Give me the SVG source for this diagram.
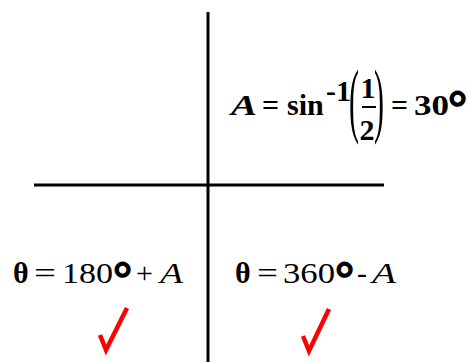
<svg xmlns="http://www.w3.org/2000/svg" width="468" height="363" viewBox="0 0 468 363">
<style>
.t{font-family:"Liberation Serif","Times New Roman",serif;font-size:30px;fill:#000}
.b{font-weight:bold}
.i{font-style:italic}
.deg{font-size:48px;font-weight:bold;stroke:#000;stroke-width:1.5}
.ax{stroke:#000;stroke-width:3;fill:none}
.chk{stroke:#ff0000;stroke-width:4.5;fill:none;stroke-linejoin:miter;stroke-linecap:butt}
</style>
<rect width="468" height="363" fill="#fff"/>
<g id="axes">
<line class="ax" x1="208" y1="12" x2="208" y2="362"/>
<line class="ax" x1="34" y1="185" x2="384" y2="185"/>
</g>
<g id="formula-top">
<text class="t b i" x="231" y="115" font-size="32" textLength="26" lengthAdjust="spacingAndGlyphs">A</text>
<text class="t b" x="262" y="115">=</text>
<text class="t b" x="287" y="115">sin</text>
<text class="t b" x="326" y="101" font-size="20">-1</text>
<text class="t" transform="translate(349,127) scale(1,2.75)">(</text>
<text class="t b" x="368" y="98" font-size="28" text-anchor="middle">1</text>
<line x1="362" y1="107" x2="376" y2="107" stroke="#000" stroke-width="2"/>
<text class="t b" x="367" y="140" font-size="28" text-anchor="middle">2</text>
<text class="t" transform="translate(374,127) scale(1,2.75)">)</text>
<text class="t b" x="391" y="115">=</text>
<text class="t b" x="414" y="115" textLength="35" lengthAdjust="spacingAndGlyphs">30</text>
<text class="t deg" x="448" y="124">°</text>
</g>
<g id="formula-left">
<text class="t b" x="13" y="283">θ</text>
<text class="t" x="34" y="283" textLength="22" lengthAdjust="spacingAndGlyphs">=</text>
<text class="t" x="62" y="283" textLength="51" lengthAdjust="spacingAndGlyphs">180</text>
<text class="t deg" x="113" y="295">°</text>
<text class="t" x="136" y="283">+</text>
<text class="t i" x="160" y="283" font-size="32" textLength="23" lengthAdjust="spacingAndGlyphs">A</text>
</g>
<g id="formula-right">
<text class="t b" x="235" y="283">θ</text>
<text class="t" x="257" y="283" textLength="21" lengthAdjust="spacingAndGlyphs">=</text>
<text class="t" x="283" y="283" textLength="52" lengthAdjust="spacingAndGlyphs">360</text>
<text class="t deg" x="335" y="295">°</text>
<text class="t" x="357" y="283">-</text>
<text class="t i" x="372" y="283" font-size="32" textLength="24" lengthAdjust="spacingAndGlyphs">A</text>
</g>
<g id="checks">
<polyline class="chk" points="100,335 106,350 127,308"/>
<polyline class="chk" points="303,336 309,351 329,309"/>
</g>
</svg>
